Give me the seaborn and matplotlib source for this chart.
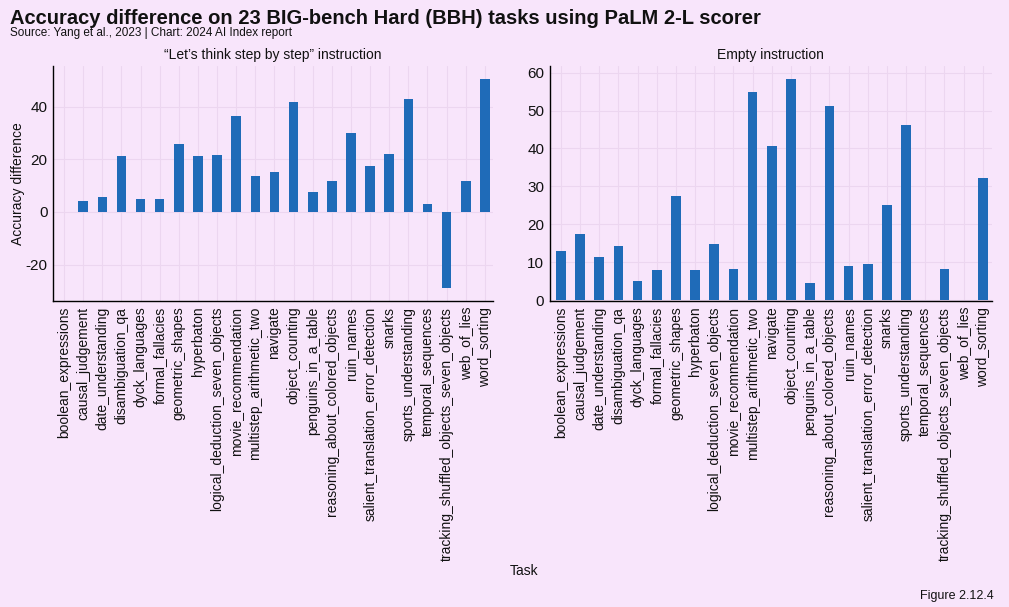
import matplotlib
matplotlib.use("Agg")
import matplotlib.pyplot as plt
import seaborn as sns
import pandas as pd

tasks = [
    "boolean_expressions", "causal_judgement", "date_understanding", "disambiguation_qa",
    "dyck_languages", "formal_fallacies", "geometric_shapes", "hyperbaton",
    "logical_deduction_seven_objects", "movie_recommendation", "multistep_arithmetic_two",
    "navigate", "object_counting", "penguins_in_a_table", "reasoning_about_colored_objects",
    "ruin_names", "salient_translation_error_detection", "snarks", "sports_understanding",
    "temporal_sequences", "tracking_shuffled_objects_seven_objects", "web_of_lies", "word_sorting",
]
step_by_step = [0.1, 4.1, 5.7, 21.2, 4.8, 4.8, 25.9, 21.2, 21.6, 36.4, 13.6, 15.1, 41.9,
                7.5, 11.8, 30.1, 17.4, 22.0, 43.0, 3.0, -28.8, 11.8, 50.5]
empty_instr = [13.0, 17.5, 11.4, 14.3, 5.1, 8.0, 27.5, 8.0, 14.7, 8.3, 54.9, 40.7, 58.3,
               4.6, 51.2, 9.0, 9.6, 25.1, 46.2, 0.1, 8.3, 0.1, 32.2]

BG = "#F8E5FB"
BAR = "#1F6BB8"
GRID = "#ECD6F0"

sns.set_theme(style="whitegrid")
plt.rcParams["font.family"] = ["Liberation Sans", "DejaVu Sans"]
plt.rcParams["axes.facecolor"] = BG
plt.rcParams["figure.facecolor"] = BG
plt.rcParams["axes.unicode_minus"] = False
plt.rcParams["text.color"] = "#111111"
plt.rcParams["xtick.color"] = "#111111"
plt.rcParams["ytick.color"] = "#111111"
plt.rcParams["axes.labelcolor"] = "#111111"

fig = plt.figure(figsize=(10.09, 6.07), dpi=100)
ax1 = fig.add_axes([0.0525, 0.504, 0.436, 0.387])
ax2 = fig.add_axes([0.545, 0.504, 0.438, 0.387])

df1 = pd.DataFrame({"Task": tasks, "val": step_by_step})
df2 = pd.DataFrame({"Task": tasks, "val": empty_instr})

for ax, df, title, ylim, xl in [
    (ax1, df1, "\u201cLet\u2019s think step by step\u201d instruction", (-33.9, 55.5), (-0.58, 22.42)),
    (ax2, df2, "Empty instruction", (-0.25, 61.7), (-0.57, 22.47)),
]:
    sns.barplot(data=df, x="Task", y="val", ax=ax, color=BAR, width=0.5, saturation=1,
                edgecolor="none", linewidth=0)
    ax.set_facecolor(BG)
    ax.set_title(title, fontsize=10, pad=5)
    ax.set_xlabel("")
    ax.set_ylabel("")
    ax.set_ylim(*ylim)
    ax.set_xlim(*xl)
    ax.tick_params(axis="x", labelrotation=90, labelsize=10, length=0, pad=4)
    ax.tick_params(axis="y", labelsize=11, length=0, pad=4)
    ax.grid(True, axis="both", color=GRID, linewidth=0.8)
    ax.set_axisbelow(True)
    for s in ["top", "right"]:
        ax.spines[s].set_visible(False)
    for s in ["left", "bottom"]:
        ax.spines[s].set_color("black")
        ax.spines[s].set_linewidth(1.0)

ax1.set_yticks([-20, 0, 20, 40])
ax2.set_yticks([0, 10, 20, 30, 40, 50, 60])
ax1.set_ylabel("Accuracy difference", fontsize=10, labelpad=0)

fig.text(0.0099, 0.985, "Accuracy difference on 23 BIG-bench Hard (BBH) tasks using PaLM 2-L scorer",
         fontsize=14.5, fontweight="bold", va="top", ha="left")
fig.text(0.0099, 0.956, "Source: Yang et al., 2023 | Chart: 2024 AI Index report",
         fontsize=8.5, va="top", ha="left")
fig.text(0.519, 0.06, "Task", fontsize=10, ha="center", va="center")
fig.text(0.985, 0.018, "Figure 2.12.4", fontsize=9, ha="right", va="center")

fig.savefig("out.png", dpi=100, facecolor=BG)
